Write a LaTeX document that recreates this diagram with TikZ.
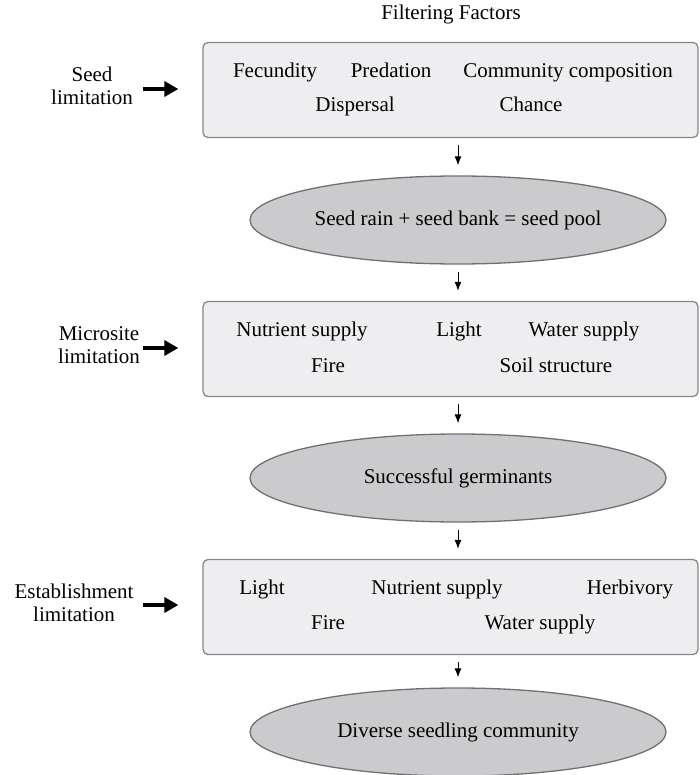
\documentclass[tikz,border=0pt]{standalone}
\usepackage{fontspec}
\setmainfont{Liberation Serif}
\usetikzlibrary{shapes.geometric,arrows.meta,positioning}
\definecolor{boxfill}{RGB}{238,238,240}
\definecolor{boxline}{RGB}{135,135,138}
\definecolor{ellfill}{RGB}{203,203,206}
\definecolor{ellline}{RGB}{112,112,115}
\begin{document}
\begin{tikzpicture}[x=1pt,y=-1pt,
    every node/.style={font=\fontsize{21}{23}\selectfont},
    factor/.style={text height=1.5ex, text depth=.3ex, inner sep=0pt},
    factorbox/.style={draw=boxline, fill=boxfill, line width=1.3pt, rounded corners=5pt,
        minimum width=495pt, minimum height=95pt, inner sep=0pt},
    poolell/.style={ellipse, draw=ellline, fill=ellfill, line width=1.3pt,
        minimum width=416pt, minimum height=88pt, inner sep=0pt},
    limlabel/.style={align=center, inner sep=0pt},
    limarrow/.style={line width=3.5pt, -{Triangle[length=14pt,width=15pt]}, shorten >=24pt},
    flowarrow/.style={line width=1pt, -{Latex[length=9pt,width=7pt]}, shorten <=7pt, shorten >=10pt}]
    \useasboundingbox (0,0) rectangle (700,775);
    \def\bx{450.5}
    \def\ex{458}
    \node[factor] (title) at (451,17) {Filtering Factors};
    % boxes and pools
    \node[factorbox] (box1) at (\bx,90) {};
    \node[poolell] (ell1) at (\ex,220) {Seed rain + seed bank = seed pool};
    \node[factorbox] (box2) at (\bx,349) {};
    \node[poolell] (ell2) at (\ex,478) {Successful germinants};
    \node[factorbox] (box3) at (\bx,607) {};
    \node[poolell] (ell3) at (\ex,732) {Diverse seedling community};
    % factors
    \foreach[count=\i] \t/\x/\y in {Fecundity/275/75, Predation/391/75, Community composition/568/75,
        Dispersal/355/109, Chance/531/109}
        \node[factor] (fa\i) at (\x,\y) {\t};
    \foreach[count=\i] \t/\x/\y in {Nutrient supply/302/334, Light/459/334, Water supply/584/334,
        Fire/328/370, Soil structure/556/370}
        \node[factor] (fb\i) at (\x,\y) {\t};
    \foreach[count=\i] \t/\x/\y in {Light/262/592, Nutrient supply/437/592, Herbivory/630/592,
        Fire/328/627, Water supply/540/627}
        \node[factor] (fc\i) at (\x,\y) {\t};
    % limitations
    \node[limlabel] (lim1) at (92,86) {Seed\\limitation};
    \node[limlabel] (lim2) at (99,345) {Microsite\\limitation};
    \node[limlabel] (lim3) at (74,603) {Establishment\\limitation};
    \coordinate (s1) at (143,89);
    \coordinate (s2) at (143,348);
    \coordinate (s3) at (143,605);
    \foreach \i in {1,2,3}
        \draw[limarrow] (s\i) -- (box\i.west |- s\i);
    % flow
    \draw[flowarrow] (box1.south -| ell1.north) -- (ell1.north);
    \draw[flowarrow] (ell1.south) -- (box2.north -| ell1.south);
    \draw[flowarrow] (box2.south -| ell2.north) -- (ell2.north);
    \draw[flowarrow] (ell2.south) -- (box3.north -| ell2.south);
    \draw[flowarrow] (box3.south -| ell3.north) -- (ell3.north);
\end{tikzpicture}
\end{document}
